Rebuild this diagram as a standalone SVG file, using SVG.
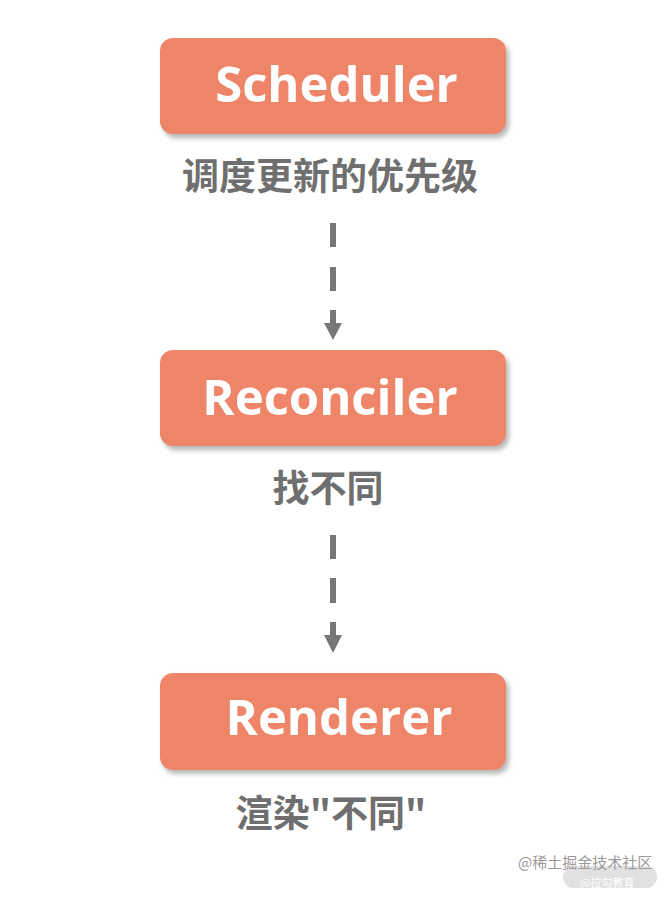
<svg xmlns="http://www.w3.org/2000/svg" width="666" height="897" viewBox="0 0 666 897">
<defs>
<style>
.box{fill:#EF8567;filter:url(#sh);}
.title{font-family:"Open Sans","Noto Sans","Liberation Sans",sans-serif;font-weight:700;font-size:49px;fill:#ffffff;text-anchor:middle;}
.lbl{font-family:"Noto Sans CJK SC","Noto Sans",sans-serif;font-weight:700;font-size:37px;fill:#6f6f6f;text-anchor:middle;}
.dash{stroke:#777777;stroke-width:6;fill:none;}
.head{fill:#777777;}
.wm{font-family:"Noto Sans CJK SC","Noto Sans",sans-serif;font-size:15px;fill:#9a9a9a;}
</style>
<filter id="sh" x="-10%" y="-20%" width="125%" height="150%">
<feDropShadow dx="3" dy="4" stdDeviation="2.5" flood-color="#7a7a7a" flood-opacity="0.55"/>
</filter>
</defs>
<rect width="666" height="897" fill="#ffffff"/>
<g id="scheduler">
<rect class="box" x="160" y="38" width="346" height="96" rx="13"/>
<text class="title" x="336.5" y="102">Scheduler</text>
<text class="lbl" x="330" y="190">调度更新的优先级</text>
</g>
<g id="reconciler">
<rect class="box" x="160" y="350" width="346" height="96" rx="13"/>
<text class="title" x="330" y="415">Reconciler</text>
<text class="lbl" x="328" y="502">找不同</text>
</g>
<g id="renderer">
<rect class="box" x="160" y="673" width="346" height="97" rx="13"/>
<text class="title" x="339" y="735">Renderer</text>
<text class="lbl" x="331" y="827">渲染"不同"</text>
</g>
<g id="connectors">
<line class="dash" x1="333" y1="223" x2="333" y2="247"/>
<line class="dash" x1="333" y1="267" x2="333" y2="291"/>
<line class="dash" x1="333" y1="310" x2="333" y2="325"/>
<polygon class="head" points="324,323 342,323 333,340"/>
<line class="dash" x1="333" y1="535" x2="333" y2="559"/>
<line class="dash" x1="333" y1="578" x2="333" y2="603"/>
<line class="dash" x1="333" y1="622" x2="333" y2="637"/>
<polygon class="head" points="324,635 342,635 333,653"/>
</g>
<g id="watermark">
<rect x="563" y="866" width="94" height="22" rx="11" fill="#d9d9d9" opacity="0.8"/>
<text x="580" y="887" font-family="Noto Sans CJK SC, sans-serif" font-size="11" fill="#ffffff">@拉勾教育</text>
<text class="wm" x="518" y="868">@稀土掘金技术社区</text>
</g>
</svg>
